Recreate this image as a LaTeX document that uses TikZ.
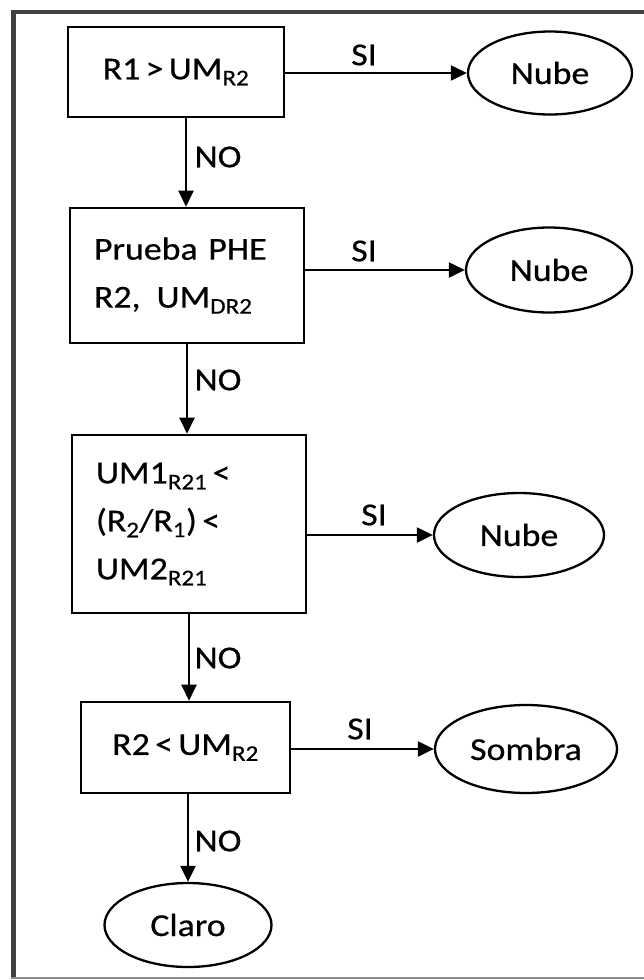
\documentclass[tikz,border=0pt]{standalone}
\usepackage{fontspec}
\setmainfont[FakeStretch=1.12,FakeBold=0.6]{Carlito}
\usetikzlibrary{arrows.meta,shapes.geometric}
\begin{document}
\begin{tikzpicture}[x=1pt,y=-1pt,
  txt/.style={font=\fontsize{32}{48}\selectfont},
  box/.style={txt, draw, line width=2.6pt, inner sep=0pt},
  lbox/.style={box, align=left, text width=186pt, inner xsep=24pt},
  term/.style={txt, draw, ellipse, line width=2.3pt, inner sep=0pt},
  arr/.style={draw, line width=2.2pt, -{Triangle[length=16pt,width=15pt]}},
  lab/.style={txt, inner sep=0pt}]
\useasboundingbox (0,0) rectangle (644,980);
% frame
\draw[line width=4pt, black!75] (13,12) -- (646,12);
\draw[line width=5pt, black!75] (13,10) -- (13,979);
\draw[line width=2pt, black!45] (11,978) -- (646,978);
% boxes
\node[box, minimum width=216pt, minimum height=90pt] (b1) at (176,72) {R1\,>\,UM\textsubscript{R2}};
\node[lbox, minimum height=135pt] (b2) at (187,275.5) {Prueba PHE\\R2,\, UM\textsubscript{DR2}};
\node[lbox, minimum height=178pt] (b3) at (189,524) {UM1\textsubscript{R21}\,<\\(R\textsubscript{2}/R\textsubscript{1})\,<\\UM2\textsubscript{R21}};
\node[box, minimum width=209pt, minimum height=91pt] (b4) at (185.5,747.5) {R2\,<\,UM\textsubscript{R2}};
% terminals
\node[term, minimum width=164pt, minimum height=83pt] (e1) at (550,73) {Nube};
\node[term, minimum width=166pt, minimum height=85pt] (e2) at (549,270) {Nube};
\node[term, minimum width=170pt, minimum height=84pt] (e3) at (519,535) {Nube};
\node[term, minimum width=182pt, minimum height=88pt] (e4) at (526,749) {Sombra};
\node[term, minimum width=167pt, minimum height=84pt] (cl) at (188,925) {Claro};
% x positions of vertical connectors
\coordinate (na) at (186,0);
\coordinate (nb) at (187,0);
\coordinate (nc) at (189,0);
% SI connectors
\draw[arr] (b1.east |- e1) -- (e1.west);
\draw[arr] (b2.east |- e2) -- (e2.west);
\draw[arr] (b3.east |- e3) -- (e3.west);
\draw[arr] (b4.east |- e4) -- (e4.west);
% NO connectors
\draw[arr] (b1.south -| na) -- (b2.north -| na);
\draw[arr] (b2.south -| nb) -- (b3.north -| nb);
\draw[arr] (b3.south -| nc) -- (b4.north -| nc);
\draw[arr] (b4.south -| cl.north) -- (cl.north);
% labels
\node[lab] (s1) at (364,55) {SI};
\node[lab] (s2) at (364,251) {SI};
\node[lab] (s3) at (374,515) {SI};
\node[lab] (s4) at (360,729) {SI};
\node[lab] (n1) at (218,157) {NO};
\node[lab] (n2) at (218,380) {NO};
\node[lab] (n3) at (218,658) {NO};
\node[lab] (n4) at (218,841) {NO};
\end{tikzpicture}
\end{document}
